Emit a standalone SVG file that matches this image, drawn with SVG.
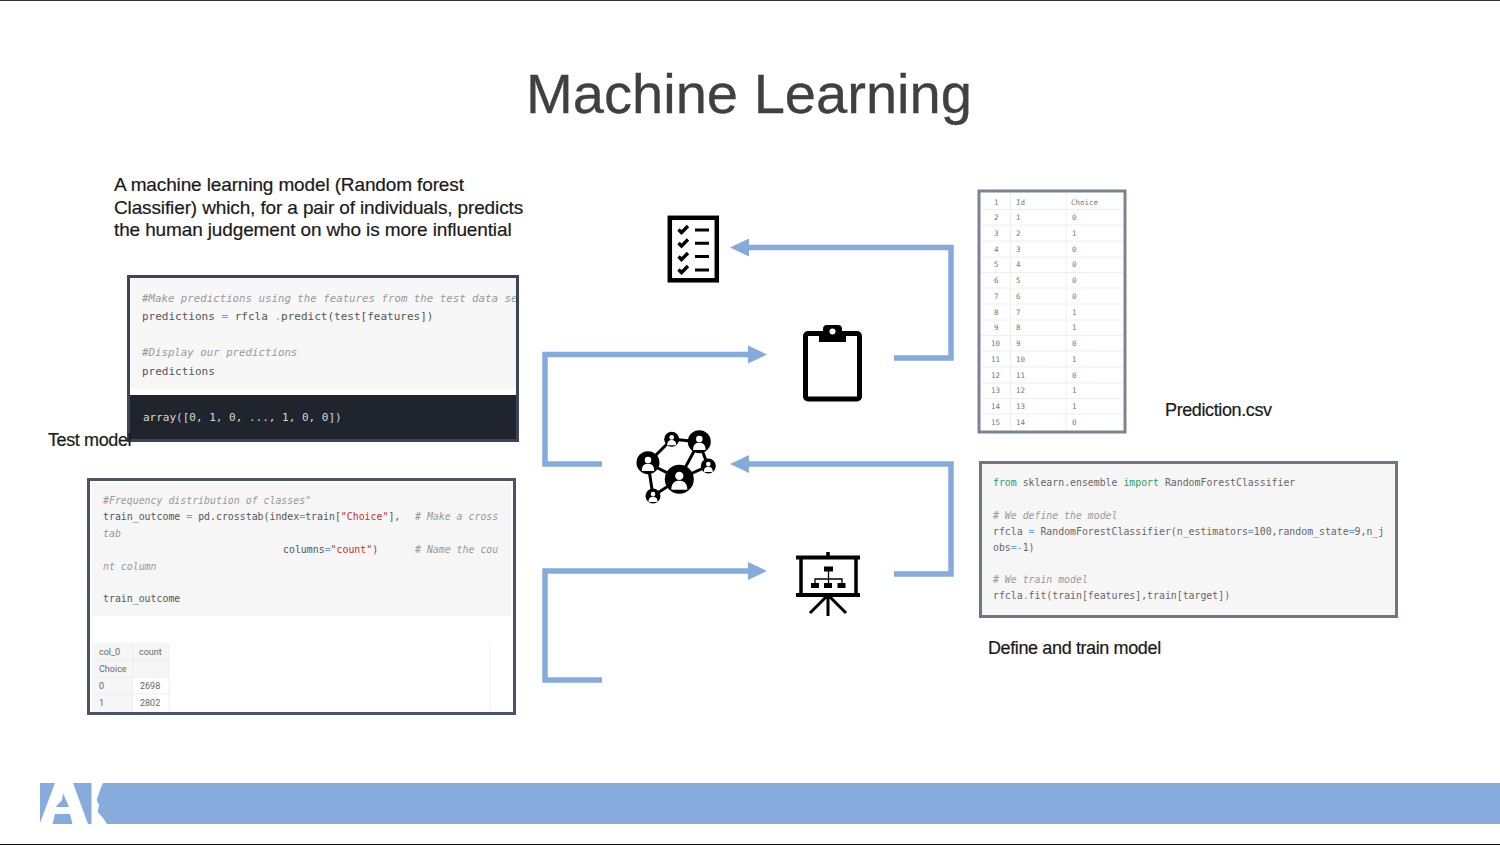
<svg xmlns="http://www.w3.org/2000/svg" width="1500" height="845" viewBox="0 0 1500 845">
<style>
.sans{font-family:"Liberation Sans",Arial,sans-serif;fill:#1a1a1a;stroke:#1a1a1a;stroke-width:.2}
.p{font-size:19px;letter-spacing:-.13px}
.lbl{font-size:18px;letter-spacing:-.38px}
.m{font-family:"DejaVu Sans Mono","Liberation Mono",monospace;fill:#555}
.m1{font-size:11px}
.mi{font-size:10.75px}
.m2{font-size:9.9px}
.m3{font-size:9.85px;fill:#666}
.c{font-style:italic;fill:#999}
.b{fill:#6d9de0}.s{fill:#c9302c}.g{fill:#2e9e5b}
.t{font-family:Roboto,"Liberation Sans",sans-serif;font-size:9px;fill:#666}
.csv{font-family:"DejaVu Sans Mono",monospace;font-size:7.5px;fill:#777}
.frame{stroke-width:3;fill:#fff}
.conn{fill:none;stroke:#85abdc;stroke-width:5.5;stroke-linejoin:miter}
.k{fill:none;stroke:#000}
.rule{stroke:#eee;stroke-width:1}
</style>
<defs>
<marker id="ah" markerUnits="userSpaceOnUse" markerWidth="19" markerHeight="20" refX="1" refY="10" orient="auto"><path d="M0 1L19 10L0 19Z" fill="#85abdc"/></marker>
<g id="person"><circle cx="0" cy="-.32" r=".26" fill="#fff"/><path d="M-.5 .55C-.5 .05 -.2 -.02 0 -.02S.5 .05 .5 .55Z" fill="#fff"/></g>
</defs>
<rect width="1500" height="845" fill="#fff"/>
<rect x="0" y="0" width="1500" height="1" fill="#333"/>
<rect x="0" y="844" width="1500" height="1" fill="#111"/>

<g id="footer">
<rect x="40" y="783" width="1460" height="41" fill="#87abdc"/>
<path d="M55 783H73L88 824H72.500L70 814H55L52.500 824H40V823Z" fill="#fff"/>
<path d="M62 800L55.500 807H69L63 793Z" fill="#87abdc"/>
<path d="M91.500 783H103L100 790L96.700 800L99 805L97.700 812L103 818L107 824H91.500Z" fill="#fff"/>
</g>

<text id="title" class="sans" x="749" y="113" text-anchor="middle" font-size="56.100" style="fill:#404040;stroke:#404040;stroke-width:.3">Machine Learning</text>

<g id="description" class="sans p">
<text x="114" y="191">A machine learning model (Random forest</text>
<text x="114" y="213.500">Classifier) which, for a pair of individuals, predicts</text>
<text x="114" y="236">the human judgement on who is more influential</text>
</g>

<g id="connectors">
<path class="conn" d="M894 358H951V247.500H748" marker-end="url(#ah)"/>
<path class="conn" d="M602 464H545V354.500H749" marker-end="url(#ah)"/>
<path class="conn" d="M894 574H951V464H748" marker-end="url(#ah)"/>
<path class="conn" d="M602 680H545V571H749" marker-end="url(#ah)"/>
</g>

<g id="test-model">
<rect class="frame" x="128.500" y="276.500" width="389" height="164" stroke="#3d4656"/>
<rect x="130" y="278" width="386" height="111" fill="#f7f7f7"/>
<rect x="130" y="395" width="386" height="44" fill="#20242c"/>
<svg x="130" y="278" width="386" height="161" viewBox="130 278 386 161">
<text class="m mi c" x="142" y="302">#Make predictions using the features from the test data se</text>
<text class="m m1" x="142" y="320">predictions <tspan class="b">=</tspan> rfcla <tspan class="b">.</tspan>predict(test[features])</text>
<text class="m mi c" x="142" y="356">#Display our predictions</text>
<text class="m m1" x="142" y="375">predictions</text>
<text class="m m1" x="143" y="421" style="fill:#d8d8d8">array([0, 1, 0, ..., 1, 0, 0])</text>
</svg>
</g>
<text id="test-model-label" class="sans lbl" x="48" y="446">Test model</text>

<g id="train-outcome">
<rect class="frame" x="88.500" y="479.500" width="426" height="234" stroke="#4a5467"/>
<rect x="92" y="483" width="419" height="133" fill="#f6f6f6"/>
<text class="m m2 c" x="103" y="504">#Frequency distribution of classes"</text>
<text class="m m2" x="103" y="520">train_outcome <tspan class="b">=</tspan> pd.crosstab(index<tspan class="b">=</tspan>train[<tspan class="s">"Choice"</tspan>],<tspan class="c" x="415"># Make a cross</tspan></text>
<text class="m m2 c" x="103" y="537">tab</text>
<text class="m m2" x="283" y="553">columns<tspan class="b">=</tspan><tspan class="s">"count"</tspan>)<tspan class="c" x="415"># Name the cou</tspan></text>
<text class="m m2 c" x="103" y="570">nt column</text>
<text class="m m2" x="103" y="602">train_outcome</text>
<rect x="92" y="643" width="77" height="34" fill="#f6f6f6"/>
<rect x="92" y="677" width="41" height="35" fill="#f6f6f6"/>
<path class="rule" d="M92 660H169M92 677H169M92 694H169M133 643V712M169 643V712M490 643V712"/>
<text class="t" x="99" y="655">col_0</text><text class="t" x="139" y="655">count</text>
<text class="t" x="99" y="672">Choice</text>
<text class="t" x="99" y="689">0</text><text class="t" x="140" y="689">2698</text>
<text class="t" x="99" y="706">1</text><text class="t" x="140" y="706">2802</text>
</g>

<g id="checklist-icon">
<rect class="k" x="669.800" y="217.800" width="47" height="62.500" stroke-width="4.500"/>
<path class="k" stroke-width="3.400" d="M678.500 229.500l3 3l6.500-6.500M678.500 243l3 3l6.500-6.500M678.500 256.500l3 3l6.500-6.500M678.500 269.500l3 3l6.500-6.500"/>
<path class="k" stroke-width="3" d="M695 230H709M695 243.300H709M695 256.500H709M695 270H709"/>
</g>

<g id="clipboard-icon">
<rect class="k" x="805.500" y="333.500" width="54" height="65.500" rx="2.500" stroke-width="5"/>
<path d="M819 342V333H823V329Q823 325 827 325H838Q842 325 842 329V333H846V342Z" fill="#000"/>
<circle cx="832.500" cy="331.500" r="3" fill="#fff"/>
</g>

<g id="network-icon">
<path class="k" stroke-width="3" d="M648 463L672 439L699 442L708 466L679 479L699 442M648 463L679 479L653 496Z"/>
<circle cx="679.300" cy="479.300" r="14.500"/><use href="#person" transform="translate(679.300 481) scale(16)"/>
<circle cx="648" cy="462.700" r="11.500"/><use href="#person" transform="translate(648 464) scale(12.500)"/>
<circle cx="699.300" cy="441.700" r="11.500"/><use href="#person" transform="translate(699.300 443) scale(12.500)"/>
<circle cx="671.700" cy="439.300" r="7.500"/><use href="#person" transform="translate(671.700 440.300) scale(9)"/>
<circle cx="708.300" cy="466" r="7.500"/><use href="#person" transform="translate(708.300 467) scale(9)"/>
<circle cx="653" cy="496" r="7.500"/><use href="#person" transform="translate(653 497) scale(9)"/>
</g>

<g id="presentation-icon">
<path class="k" stroke-width="4" d="M796 557.500H860M796 595H860"/>
<path class="k" stroke-width="3.500" d="M801 557V595M856 557V595M828 552V557"/>
<path class="k" stroke-width="3" d="M828 595V616M826 597L810 613M830 597L846 613"/>
<rect x="824" y="566.500" width="9" height="5"/>
<path class="k" stroke-width="1.300" d="M828.500 571V583M815 583V579H842V583"/>
<rect x="811" y="583" width="8" height="5"/><rect x="824" y="583" width="8" height="5"/><rect x="837.500" y="583" width="8" height="5"/>
</g>

<g id="prediction-csv">
<rect class="frame" x="979" y="191" width="146" height="241" stroke="#7b8492"/>
<path class="rule" d="M981 209.500H1123M981 225H1123M981 241H1123M981 257H1123M981 272.500H1123M981 288H1123M981 304H1123M981 320H1123M981 335.500H1123M981 351H1123M981 367H1123M981 383H1123M981 398.500H1123M981 414H1123M1010.500 193V430M1066 193V430"/>
<g class="csv">
<text x="994" y="205">1</text><text x="1016" y="205">Id</text><text x="1071" y="205">Choice</text>
<text x="994" y="220">2</text><text x="1016" y="220">1</text><text x="1072" y="220">0</text>
<text x="994" y="236">3</text><text x="1016" y="236">2</text><text x="1072" y="236">1</text>
<text x="994" y="252">4</text><text x="1016" y="252">3</text><text x="1072" y="252">0</text>
<text x="994" y="267">5</text><text x="1016" y="267">4</text><text x="1072" y="267">0</text>
<text x="994" y="283">6</text><text x="1016" y="283">5</text><text x="1072" y="283">0</text>
<text x="994" y="299">7</text><text x="1016" y="299">6</text><text x="1072" y="299">0</text>
<text x="994" y="315">8</text><text x="1016" y="315">7</text><text x="1072" y="315">1</text>
<text x="994" y="330">9</text><text x="1016" y="330">8</text><text x="1072" y="330">1</text>
<text x="991" y="346">10</text><text x="1016" y="346">9</text><text x="1072" y="346">0</text>
<text x="991" y="362">11</text><text x="1016" y="362">10</text><text x="1072" y="362">1</text>
<text x="991" y="378">12</text><text x="1016" y="378">11</text><text x="1072" y="378">0</text>
<text x="991" y="393">13</text><text x="1016" y="393">12</text><text x="1072" y="393">1</text>
<text x="991" y="409">14</text><text x="1016" y="409">13</text><text x="1072" y="409">1</text>
<text x="991" y="425">15</text><text x="1016" y="425">14</text><text x="1072" y="425">0</text>
</g>
</g>
<text id="prediction-label" class="sans lbl" x="1165" y="416">Prediction.csv</text>

<g id="define-train">
<rect class="frame" x="980.500" y="462.500" width="416" height="154" stroke="#6f7786" style="fill:#f6f6f6"/>
<text class="m m3" x="993" y="486"><tspan class="g">from</tspan> sklearn.ensemble <tspan class="g">import</tspan> RandomForestClassifier</text>
<text class="m m3 c" x="993" y="519"># We define the model</text>
<text class="m m3" x="993" y="535">rfcla <tspan class="b">=</tspan> RandomForestClassifier(n_estimators<tspan class="b">=</tspan>100,random_state<tspan class="b">=</tspan>9,n_j</text>
<text class="m m3" x="993" y="551">obs<tspan class="b">=-</tspan>1)</text>
<text class="m m3 c" x="993" y="583"># We train model</text>
<text class="m m3" x="993" y="599">rfcla<tspan class="b">.</tspan>fit(train[features],train[target])</text>
</g>
<text id="define-label" class="sans lbl" x="988" y="654">Define and train model</text>
</svg>
